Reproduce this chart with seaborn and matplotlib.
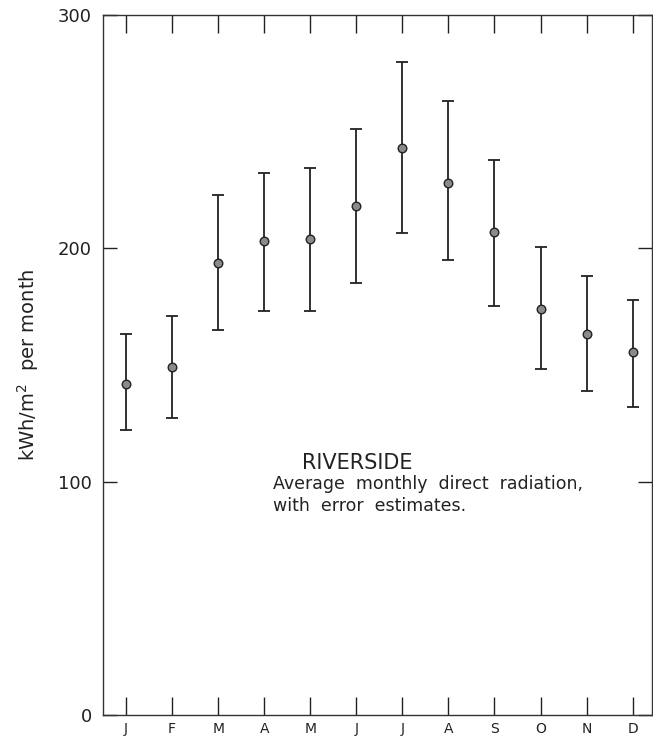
import numpy as np
import pandas as pd
import matplotlib
matplotlib.use("Agg")
import matplotlib.pyplot as plt
import seaborn as sns

# monthly direct radiation, Riverside (kWh/m^2 per month)
months = ["J", "F", "M", "A", "M", "J", "J", "A", "S", "O", "N", "D"]
mean_val = [142, 149, 193.5, 203, 204, 218, 243, 228, 207, 174, 163.5, 155.5]
upper_val = [163.5, 171, 223, 232.5, 234.5, 251, 280, 263, 238, 200.5, 188, 178]
lower_val = [122, 127.5, 165, 173, 173, 185, 206.5, 195, 175.5, 148.5, 139, 132]
y_ticks = [0, 100, 200, 300]

df = pd.DataFrame({"pos": np.arange(len(months)), "mean": mean_val,
                   "upper": upper_val, "lower": lower_val})

sns.set_style("ticks")
plt.rcParams["font.family"] = ["DejaVu Sans"]

fig = plt.figure(figsize=(6.53, 7.39), dpi=100)
ax = fig.add_axes([103 / 653, 24 / 739, (652 - 103) / 653, 700 / 739])

err = [df["mean"] - df["lower"], df["upper"] - df["mean"]]
ax.errorbar(df["pos"], df["mean"], yerr=err, fmt="none", ecolor="#222222",
            elinewidth=1.3, capsize=4, capthick=1.3, zorder=2)
sns.scatterplot(data=df, x="pos", y="mean", ax=ax, s=38, color="#8a8a8a",
                edgecolor="#222222", linewidth=1.0, zorder=3, legend=False)

ax.set_xlim(-0.5, 11.42)
ax.set_ylim(0, 300)
ax.set_xticks(df["pos"])
ax.set_xticklabels(months)
ax.set_yticks(y_ticks)
ax.set_xlabel("")
ax.set_ylabel("kWh/m$^2$  per month", fontsize=14, color="#222222", labelpad=12)

ax.tick_params(axis="x", direction="in", length=13, width=1.0, top=True,
               bottom=True, labelsize=10, pad=5, colors="#222222")
ax.tick_params(axis="y", direction="in", length=10, width=1.0, left=True,
               right=True, labelsize=13, pad=8, colors="#222222")
for s in ax.spines.values():
    s.set_linewidth(1.0)
    s.set_color("#333333")

ax.text(5.02, 108, "RIVERSIDE", ha="center", va="center", fontsize=15,
        color="#222222")
ax.text(3.2, 103, "Average  monthly  direct  radiation,\nwith  error  estimates.",
        ha="left", va="top", fontsize=12.5, color="#222222", linespacing=1.3)

fig.savefig("out.png", dpi=100)
